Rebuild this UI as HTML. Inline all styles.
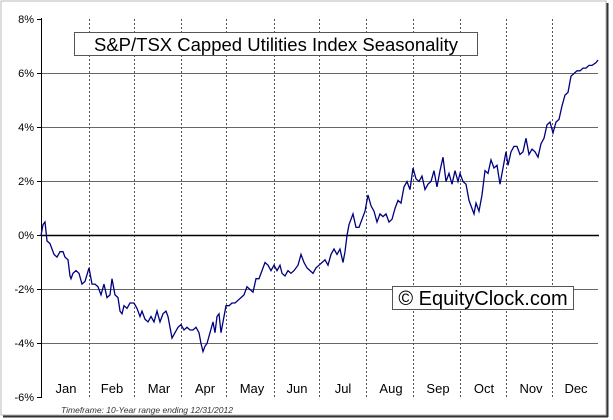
<!DOCTYPE html>
<html><head><meta charset="utf-8"><style>
html,body{margin:0;padding:0;background:#fff;}
svg{display:block;}
</style></head><body>
<svg width="613" height="420" xmlns="http://www.w3.org/2000/svg" font-family="Liberation Sans, Arial, sans-serif">
<rect x="0" y="0" width="613" height="420" fill="#fff"/>
<rect x="1" y="1" width="605" height="414" fill="none" stroke="#bbb" stroke-width="1"/>
<line x1="607.5" y1="3" x2="607.5" y2="417" stroke="#333" stroke-width="2"/>
<line x1="3" y1="416.5" x2="608" y2="416.5" stroke="#333" stroke-width="2"/>
<g stroke="#666" stroke-width="1">
<line x1="41" y1="73.5" x2="598" y2="73.5"/>
<line x1="41" y1="127.5" x2="598" y2="127.5"/>
<line x1="41" y1="181.5" x2="598" y2="181.5"/>
<line x1="41" y1="289.5" x2="598" y2="289.5"/>
<line x1="41" y1="343.5" x2="598" y2="343.5"/>
</g>
<g stroke="#555" stroke-width="1" stroke-dasharray="2,2">
<line x1="89.5" y1="19" x2="89.5" y2="397"/>
<line x1="134.5" y1="19" x2="134.5" y2="397"/>
<line x1="181.5" y1="19" x2="181.5" y2="397"/>
<line x1="226.5" y1="19" x2="226.5" y2="397"/>
<line x1="274.5" y1="19" x2="274.5" y2="397"/>
<line x1="319.5" y1="19" x2="319.5" y2="397"/>
<line x1="366.5" y1="19" x2="366.5" y2="397"/>
<line x1="413.5" y1="19" x2="413.5" y2="397"/>
<line x1="460.5" y1="19" x2="460.5" y2="397"/>
<line x1="506.5" y1="19" x2="506.5" y2="397"/>
<line x1="552.5" y1="19" x2="552.5" y2="397"/>
</g>
<line x1="41" y1="235.5" x2="599" y2="235.5" stroke="#000" stroke-width="1.5"/>
<line x1="41.5" y1="18" x2="41.5" y2="398" stroke="#000" stroke-width="1"/>
<g stroke="#000"><line x1="37" y1="19.5" x2="41" y2="19.5"/><line x1="37" y1="73.5" x2="41" y2="73.5"/><line x1="37" y1="127.5" x2="41" y2="127.5"/><line x1="37" y1="181.5" x2="41" y2="181.5"/><line x1="37" y1="235.5" x2="41" y2="235.5"/><line x1="37" y1="289.5" x2="41" y2="289.5"/><line x1="37" y1="343.5" x2="41" y2="343.5"/><line x1="37" y1="397.5" x2="41" y2="397.5"/></g>
<g font-size="11" text-anchor="end" fill="#000">
<text x="34" y="23">8%</text><text x="34" y="77">6%</text><text x="34" y="131">4%</text><text x="34" y="185">2%</text><text x="34" y="239">0%</text><text x="34" y="293">-2%</text><text x="34" y="347">-4%</text><text x="34" y="401">-6%</text>
</g>
<g font-size="13" text-anchor="middle" fill="#000">
<text x="66" y="393">Jan</text><text x="112" y="393">Feb</text><text x="159" y="393">Mar</text><text x="205" y="393">Apr</text><text x="252" y="393">May</text><text x="297" y="393">Jun</text><text x="343" y="393">Jul</text><text x="391" y="393">Aug</text><text x="438" y="393">Sep</text><text x="484" y="393">Oct</text><text x="531" y="393">Nov</text><text x="576" y="393">Dec</text>
</g>
<text x="61" y="413" font-size="8.5" font-style="italic" fill="#333">Timeframe: 10-Year range ending 12/31/2012</text>
<rect x="74.5" y="32.5" width="403" height="23" fill="#fff" stroke="#555"/>
<text x="276" y="51" font-size="18.5" text-anchor="middle" fill="#000">S&amp;P/TSX Capped Utilities Index Seasonality</text>
<polyline fill="none" stroke="#000080" stroke-width="1.3" points="41,235.5 43,224.7 45,222 47,240.9 50,243.6 54,254.4 57,257.1 60,251.7 63,251.7 65,257.1 68,259.8 70,276 71,278.7 73,273.3 76,270.6 79,273.3 82,284.1 85,281.4 89,267.9 92,284.1 95,284.1 98,286.8 101,294.9 104,284.1 107,297.6 110,294.9 112,278.7 115,294.9 118,297.6 120,311.1 122,313.8 124,305.7 127,308.4 130,303 134,303 137,308.4 140,316.5 142,311.1 145,319.2 148,321.9 151,316.5 154,321.9 157,311.1 160,321.9 163,313.8 166,311.1 168,316.5 170,327.3 172,338.1 175,332.7 178,327.3 181,324.6 184,330 187,327.3 190,330 193,330 196,327.3 199,332.7 201,343.5 203,351.6 205,346.2 207,343.5 210,332.7 213,321.9 215,332.7 217,316.5 219,313.8 221,332.7 224,316.5 226,305.7 229,305.7 232,303 235,303 238,300.3 241,297.6 244,294.9 247,286.8 250,289.5 253,292.2 256,278.7 259,278.7 262,270.6 265,262.5 268,265.2 271,270.6 274,265.2 277,270.6 280,265.2 282,273.3 285,276 288,270.6 291,273.3 294,270.6 298,265.2 301,254.4 304,262.5 307,267.9 310,270.6 313,273.3 316,267.9 319,265.2 322,262.5 325,259.8 328,265.2 331,254.4 334,249 337,254.4 340,249 343,262.5 345,251.7 347,235.5 349,224.7 351,219.3 353,213.9 356,227.4 359,227.4 362,219.3 365,211.2 368,195 371,205.8 374,211.2 377,222 380,213.9 383,216.6 386,213.9 389,222 392,219.3 395,208.5 398,200.4 401,203.1 404,186.9 407,181.5 410,189.6 413,168 416,178.8 419,181.5 422,176.1 425,189.6 428,184.2 431,181.5 434,170.7 437,186.9 440,170.7 443,157.2 446,181.5 449,173.4 452,184.2 455,170.7 458,181.5 460,173.4 463,181.5 466,184.2 469,200.4 472,208.5 474,213.9 476,203.1 479,211.2 482,195 485,170.7 488,173.4 491,159.9 494,168 497,165.3 500,184.2 503,168 506,151.8 508,165.3 511,151.8 514,146.4 517,146.4 520,154.5 523,151.8 526,138.3 529,154.5 532,149.1 535,151.8 538,157.2 541,143.7 544,138.3 547,124.8 550,122.1 553,132.9 556,122.1 559,119.4 562,105.9 565,95.1 568,92.4 571,76.2 574,73.5 577,70.8 580,70.8 583,68.1 586,68.1 589,65.4 592,65.4 596,62.7 598,60"/>
<rect x="392.5" y="286.5" width="181" height="23" fill="#fff" stroke="#555"/>
<text x="483" y="305" font-size="20" text-anchor="middle" fill="#000">© EquityClock.com</text>
</svg>
</body></html>
